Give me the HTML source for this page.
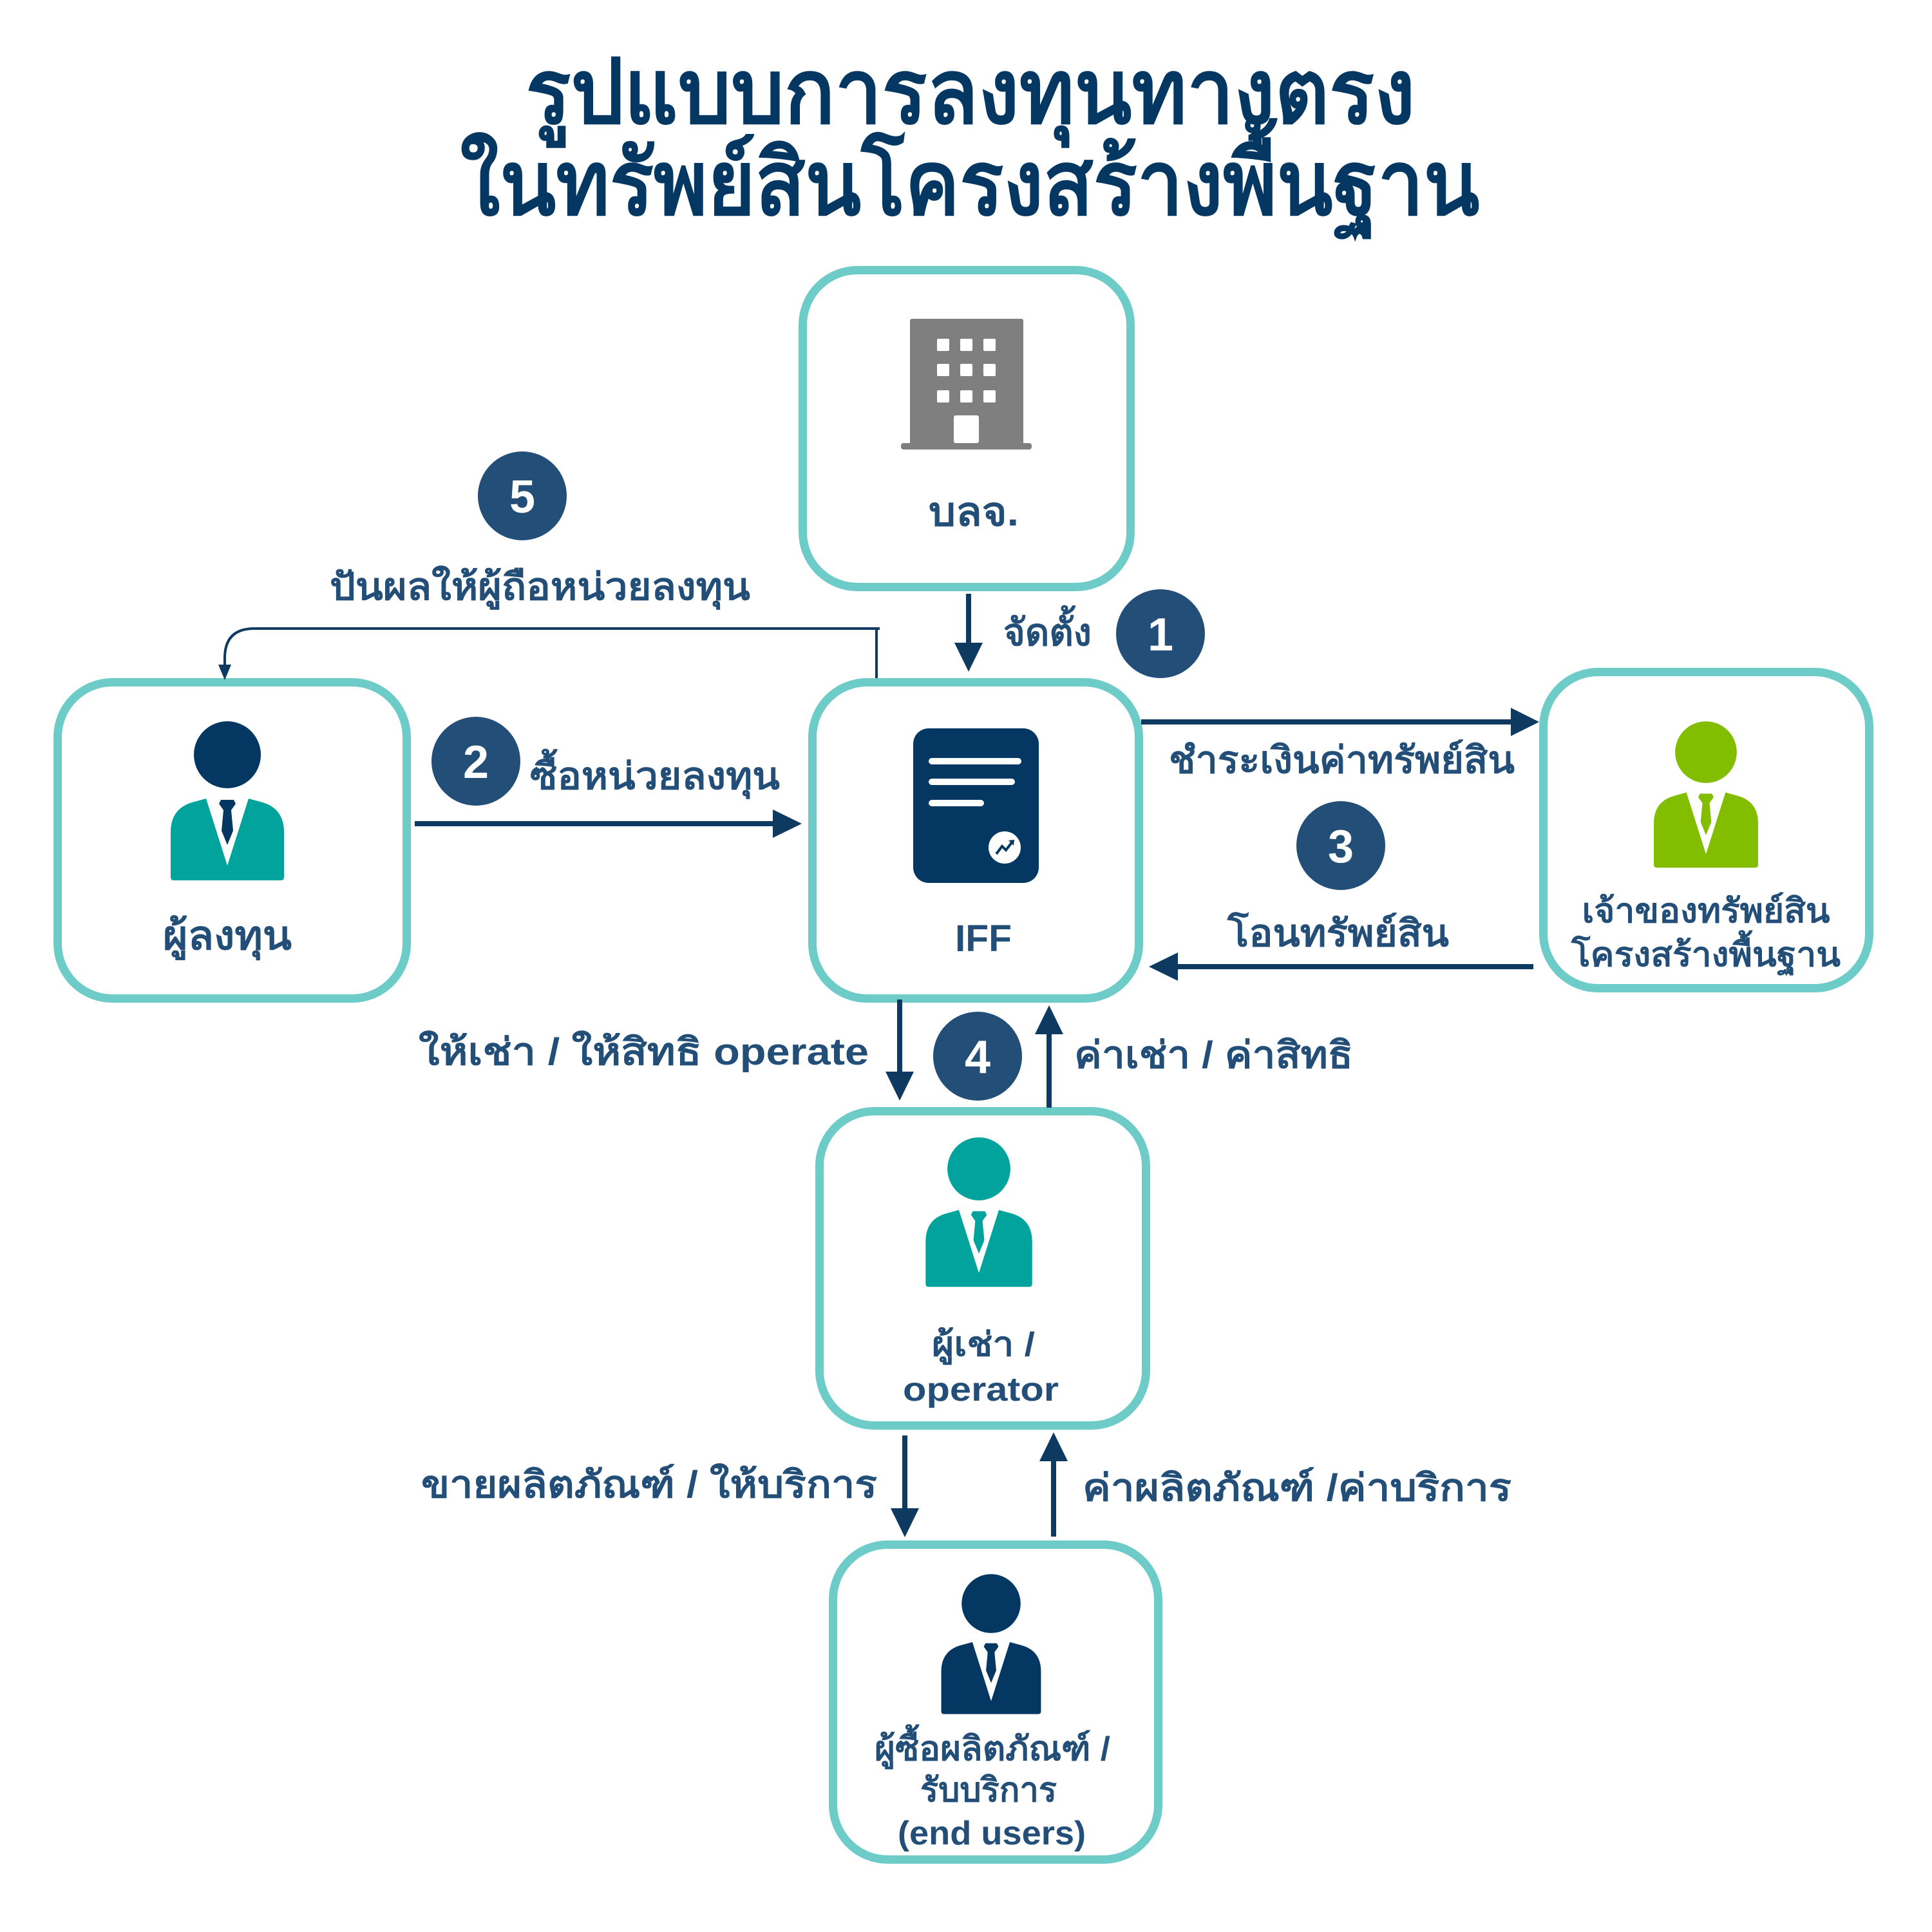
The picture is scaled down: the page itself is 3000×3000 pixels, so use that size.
<!DOCTYPE html>
<html><head><meta charset="utf-8"><style>
html,body{margin:0;padding:0;background:#fff;}
svg{display:block;}
text{font-family:"Liberation Sans","Noto Sans CJK SC",sans-serif;}
</style></head><body>
<svg width="3000" height="3000" viewBox="0 0 3000 3000" xmlns="http://www.w3.org/2000/svg">
<rect width="3000" height="3000" fill="#fff"/>

<!-- Title -->
<g fill="#053763" font-weight="700" font-size="140" text-anchor="middle">
<text x="1507" y="191" textLength="1381" lengthAdjust="spacingAndGlyphs">รูปแบบการลงทุนทางตรง</text>
<text x="1506" y="333" textLength="1583" lengthAdjust="spacingAndGlyphs">ในทรัพย์สินโครงสร้างพื้นฐาน</text>
</g>

<!-- Boxes -->
<g fill="#fff" stroke="#6dcbc8" stroke-width="13">
<rect x="1246.5" y="419.5" width="509" height="492" rx="85"/>
<rect x="89.5" y="1059.5" width="542" height="491" rx="85"/>
<rect x="1261.5" y="1059.5" width="507" height="491" rx="85"/>
<rect x="2396.5" y="1043.5" width="506" height="491" rx="85"/>
<rect x="1272.5" y="1725.5" width="507" height="488" rx="85"/>
<rect x="1293.5" y="2398.5" width="505" height="489" rx="85"/>
</g>

<!-- Building -->
<g fill="#7f7f7f">
<rect x="1413" y="495" width="176" height="196" rx="3"/>
<rect x="1399" y="688" width="203" height="10" rx="4"/>
</g>
<g fill="#fff">
<rect x="1455" y="526" width="19" height="19" rx="2"/><rect x="1491" y="526" width="19" height="19" rx="2"/><rect x="1527" y="526" width="19" height="19" rx="2"/>
<rect x="1455" y="565" width="19" height="19" rx="2"/><rect x="1491" y="565" width="19" height="19" rx="2"/><rect x="1527" y="565" width="19" height="19" rx="2"/>
<rect x="1455" y="606" width="19" height="19" rx="2"/><rect x="1491" y="606" width="19" height="19" rx="2"/><rect x="1527" y="606" width="19" height="19" rx="2"/>
<rect x="1481" y="645" width="39" height="43" rx="3"/>
</g>

<!-- Document icon -->
<rect x="1418" y="1131" width="195" height="240" rx="24" fill="#053763"/>
<g stroke="#fff" stroke-width="10" stroke-linecap="round">
<line x1="1447" y1="1182" x2="1581" y2="1182"/>
<line x1="1447" y1="1214" x2="1571" y2="1214"/>
<line x1="1447" y1="1247" x2="1523" y2="1247"/>
</g>
<circle cx="1560" cy="1316" r="25" fill="#fff"/>
<path d="M1547,1326 L1556,1314 L1562,1320 L1572,1307" fill="none" stroke="#053763" stroke-width="4"/>
<path d="M1566,1305 L1575,1304 L1574,1313 Z" fill="#053763"/>

<!-- Persons -->
<defs>
<path id="body" d="M-88,190 V120 Q-88,84 -55,74 L-33,68 L0,172 L33,68 L55,74 Q88,84 88,120 V190 Q88,195 83,195 H-83 Q-88,195 -88,190 Z"/>
<path id="tie" d="M-10,70 H10 L13,76 L6,86 L9,118 L0,140 L-9,118 L-6,86 L-13,76 Z"/>
</defs>
<g transform="translate(353,1172)">
<circle r="52" fill="#053763"/><use href="#body" fill="#02a39c"/><use href="#tie" fill="#053763"/>
</g>
<g transform="translate(2649,1168) scale(0.92)">
<circle r="52" fill="#82bd00"/><use href="#body" fill="#82bd00"/><use href="#tie" fill="#82bd00"/>
</g>
<g transform="translate(1520,1815) scale(0.94)">
<circle r="52" fill="#02a39c"/><use href="#body" fill="#02a39c"/><use href="#tie" fill="#02a39c"/>
</g>
<g transform="translate(1539,2490) scale(0.88)">
<circle r="52" fill="#053763"/><use href="#body" fill="#053763"/><use href="#tie" fill="#053763"/>
</g>

<!-- Arrows -->
<g stroke="#0e3a61" stroke-width="8" fill="none">
<line x1="1504" y1="922" x2="1504" y2="1005"/>
<line x1="644" y1="1279" x2="1205" y2="1279"/>
<line x1="1772" y1="1121" x2="2350" y2="1121"/>
<line x1="2381" y1="1501" x2="1824" y2="1501"/>
<line x1="1397" y1="1552" x2="1397" y2="1670"/>
<line x1="1629" y1="1720" x2="1629" y2="1600"/>
<line x1="1405" y1="2229" x2="1405" y2="2348"/>
<line x1="1636" y1="2386" x2="1636" y2="2263"/>
</g>
<g fill="#0e3a61">
<polygon points="1482,998 1526,998 1504,1043"/>
<polygon points="1200,1257 1200,1301 1245,1279"/>
<polygon points="2346,1099 2346,1143 2390,1121"/>
<polygon points="1829,1479 1829,1523 1784,1501"/>
<polygon points="1375,1664 1419,1664 1397,1709"/>
<polygon points="1607,1606 1651,1606 1629,1561"/>
<polygon points="1383,2342 1427,2342 1405,2387"/>
<polygon points="1614,2269 1658,2269 1636,2224"/>
</g>
<!-- Dividend connector -->
<path d="M1361,1053 V976 M1366,976 H395 Q349,976 349,1022 V1036" fill="none" stroke="#0e3a61" stroke-width="4"/>
<polygon points="339,1032 359,1032 349,1056" fill="#0e3a61"/>

<!-- Number circles -->
<g fill="#224e78">
<circle cx="1802" cy="984" r="69"/>
<circle cx="739" cy="1182" r="69"/>
<circle cx="2082" cy="1313" r="69"/>
<circle cx="1518" cy="1640" r="69"/>
<circle cx="811" cy="770" r="69"/>
</g>
<g fill="#fff" font-weight="700" font-size="72" text-anchor="middle">
<text x="1802" y="1010">1</text>
<text x="739" y="1208">2</text>
<text x="2082" y="1339">3</text>
<text x="1518" y="1666">4</text>
<text x="811" y="796">5</text>
</g>

<!-- Node labels -->
<g fill="#224e78" font-weight="700" text-anchor="middle">
<text x="1512" y="816" font-size="62" textLength="140" lengthAdjust="spacingAndGlyphs">บลจ.</text>
<text x="353" y="1474" font-size="62" textLength="200" lengthAdjust="spacingAndGlyphs">ผู้ลงทุน</text>
<text x="1527" y="1477" font-size="58" textLength="88" lengthAdjust="spacingAndGlyphs">IFF</text>
<text x="2649" y="1432" font-size="52" textLength="385" lengthAdjust="spacingAndGlyphs">เจ้าของทรัพย์สิน</text>
<text x="2649" y="1500" font-size="52" textLength="418" lengthAdjust="spacingAndGlyphs">โครงสร้างพื้นฐาน</text>
<text x="1527" y="2105" font-size="52" textLength="160" lengthAdjust="spacingAndGlyphs">ผู้เช่า /</text>
<text x="1523" y="2175" font-size="52" textLength="242" lengthAdjust="spacingAndGlyphs">operator</text>
<text x="1541" y="2733" font-size="52" textLength="366" lengthAdjust="spacingAndGlyphs">ผู้ซื้อผลิตภัณฑ์ /</text>
<text x="1535" y="2797" font-size="52" textLength="212" lengthAdjust="spacingAndGlyphs">รับบริการ</text>
<text x="1540" y="2864" font-size="52" textLength="292" lengthAdjust="spacingAndGlyphs">(end users)</text>
</g>

<!-- Connector labels -->
<g fill="#224e78" font-weight="700" font-size="58">
<text x="512" y="931" textLength="653" lengthAdjust="spacingAndGlyphs">ปันผลให้ผู้ถือหน่วยลงทุน</text>
<text x="1558" y="1002" textLength="137" lengthAdjust="spacingAndGlyphs">จัดตั้ง</text>
<text x="823" y="1225" textLength="388" lengthAdjust="spacingAndGlyphs">ซื้อหน่วยลงทุน</text>
<text x="1815" y="1200" textLength="537" lengthAdjust="spacingAndGlyphs">ชำระเงินค่าทรัพย์สิน</text>
<text x="1906" y="1469" textLength="344" lengthAdjust="spacingAndGlyphs">โอนทรัพย์สิน</text>
<text x="650" y="1653" textLength="699" lengthAdjust="spacingAndGlyphs">ให้เช่า / ให้สิทธิ operate</text>
<text x="1668" y="1658" textLength="433" lengthAdjust="spacingAndGlyphs">ค่าเช่า / ค่าสิทธิ</text>
<text x="654" y="2325" textLength="708" lengthAdjust="spacingAndGlyphs">ขายผลิตภัณฑ์ / ให้บริการ</text>
<text x="1681" y="2330" textLength="666" lengthAdjust="spacingAndGlyphs">ค่าผลิตภัณฑ์ /ค่าบริการ</text>
</g>
</svg>
</body></html>
